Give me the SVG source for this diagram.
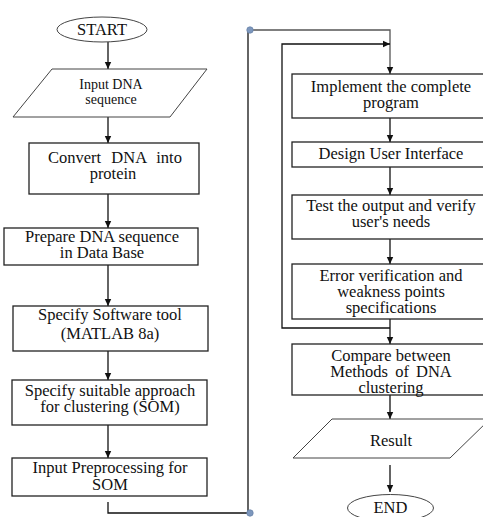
<svg xmlns="http://www.w3.org/2000/svg" width="483" height="517" viewBox="0 0 483 517">
<style>
.box{fill:#fff;stroke:#222;stroke-width:1.3}
.io{fill:#fff;stroke:#444;stroke-width:1}
.t{font-family:'Liberation Serif','DejaVu Serif',serif;font-size:16.5px;fill:#111;text-anchor:middle}
.s{font-size:14px}
.c{fill:none;stroke:#111;stroke-width:1.3}
.g{fill:none;stroke:#555;stroke-width:1.3}
.dot{fill:#7d97bd;stroke:#6a84aa;stroke-width:0.8}
</style>
<defs>
<marker id="ah" markerUnits="userSpaceOnUse" markerWidth="8" markerHeight="8" refX="7" refY="4" orient="auto">
<path d="M0,0.8 L7,4 L0,7.2 z" fill="#111"/>
</marker>
</defs>
<rect width="483" height="517" fill="#fff"/>
<g id="connectors">
<line class="c" x1="108" y1="42" x2="108" y2="69" marker-end="url(#ah)"/>
<line class="c" x1="108" y1="117" x2="108" y2="143" marker-end="url(#ah)"/>
<line class="c" x1="108" y1="194" x2="108" y2="228" marker-end="url(#ah)"/>
<line class="c" x1="108" y1="265" x2="108" y2="306" marker-end="url(#ah)"/>
<line class="c" x1="108" y1="351" x2="108" y2="380" marker-end="url(#ah)"/>
<line class="c" x1="108" y1="425" x2="108" y2="458" marker-end="url(#ah)"/>
<polyline class="c" points="108,502 108,513 250,513"/>
<line class="c" x1="248" y1="513" x2="248" y2="30"/>
<polyline class="g" points="250,30 390,30 390,74" marker-end="url(#ah)"/>
<polyline class="c" points="390,328 282,328 282,44 390,44" marker-end="url(#ah)"/>
<line class="c" x1="390" y1="118" x2="390" y2="142" marker-end="url(#ah)"/>
<line class="c" x1="390" y1="167" x2="390" y2="195" marker-end="url(#ah)"/>
<line class="c" x1="390" y1="239" x2="390" y2="264" marker-end="url(#ah)"/>
<line class="c" x1="390" y1="319" x2="390" y2="344" marker-end="url(#ah)"/>
<line class="c" x1="390" y1="395" x2="390" y2="419" marker-end="url(#ah)"/>
<line class="c" x1="390" y1="465" x2="390" y2="492" marker-end="url(#ah)"/>
<circle class="dot" cx="250" cy="30" r="3.2"/>
<circle class="dot" cx="250" cy="513" r="3.2"/>
</g>
<g id="start">
<ellipse class="io" cx="102" cy="29.5" rx="45" ry="12.5"/>
<text class="t" x="102" y="35">START</text>
</g>
<g id="input-dna">
<polygon class="io" points="52,69 207,69 170,117 13,117"/>
<text class="t s" x="111" y="89">Input DNA</text>
<text class="t s" x="111" y="104">sequence</text>
</g>
<g id="convert">
<rect class="box" x="29" y="143" width="170" height="51"/>
<text class="t" x="115" y="163" word-spacing="6">Convert DNA into</text>
<text class="t" x="113" y="179">protein</text>
</g>
<g id="prepare">
<rect class="box" x="4" y="228" width="194" height="37"/>
<text class="t" x="102" y="242">Prepare DNA sequence</text>
<text class="t" x="102" y="258">in Data Base</text>
</g>
<g id="software">
<rect class="box" x="13" y="306" width="195" height="45"/>
<text class="t" x="110" y="320">Specify Software tool</text>
<text class="t" x="110" y="339">(MATLAB 8a)</text>
</g>
<g id="approach">
<rect class="box" x="12" y="380" width="195" height="45"/>
<text class="t" x="110" y="396">Specify suitable approach</text>
<text class="t" x="110" y="412">for clustering (SOM)</text>
</g>
<g id="preprocessing">
<rect class="box" x="12" y="458" width="195" height="38"/>
<text class="t" x="110" y="473">Input Preprocessing for</text>
<text class="t" x="110" y="490">SOM</text>
</g>
<g id="implement">
<rect class="box" x="292" y="74" width="192" height="44"/>
<text class="t" x="391" y="92">Implement the complete</text>
<text class="t" x="391" y="108">program</text>
</g>
<g id="design-ui">
<rect class="box" x="292" y="142" width="192" height="25"/>
<text class="t" x="391" y="159">Design User Interface</text>
</g>
<g id="test">
<rect class="box" x="292" y="195" width="192" height="44"/>
<text class="t" x="391" y="211">Test the output and verify</text>
<text class="t" x="391" y="227">user's needs</text>
</g>
<g id="error">
<rect class="box" x="292" y="264" width="192" height="55"/>
<text class="t" x="391" y="281">Error verification and</text>
<text class="t" x="391" y="297">weakness points</text>
<text class="t" x="391" y="313">specifications</text>
</g>
<g id="compare">
<rect class="box" x="292" y="344" width="192" height="51"/>
<text class="t" x="391" y="361">Compare between</text>
<text class="t" x="391" y="377" word-spacing="3">Methods of DNA</text>
<text class="t" x="391" y="393">clustering</text>
</g>
<g id="result">
<polygon class="io" points="332,419 490,419 450,458 293,458"/>
<text class="t" x="391" y="446">Result</text>
</g>
<g id="end">
<ellipse class="io" cx="390.5" cy="508" rx="43" ry="13.5"/>
<text class="t" x="390.5" y="513">END</text>
</g>
</svg>
